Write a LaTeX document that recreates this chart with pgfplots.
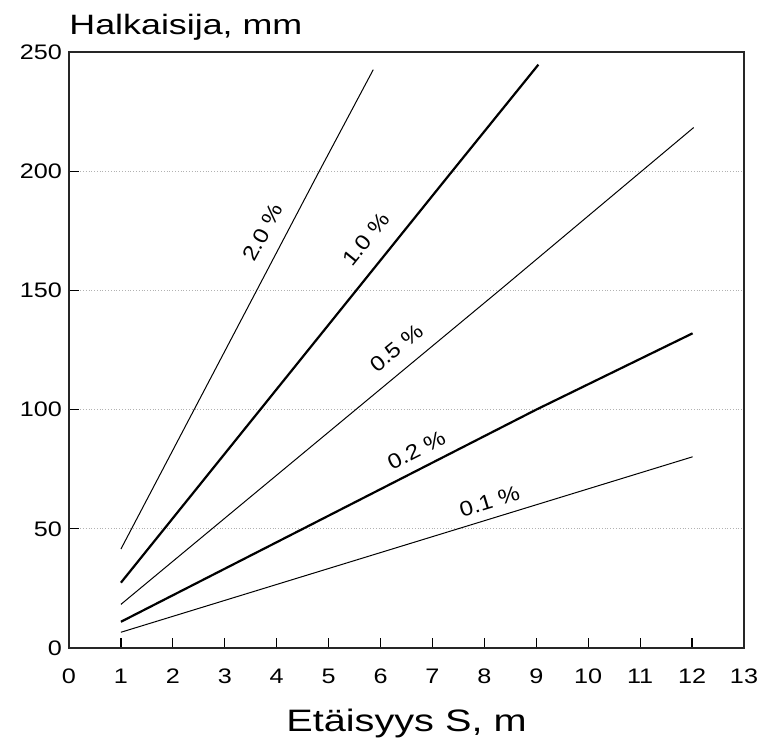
\documentclass[border=0pt]{standalone}
\usepackage{fontspec}
\setmainfont{Liberation Sans}
\newfontfamily\widefont[FakeStretch=1.28]{Liberation Sans}
\newfontfamily\tickfont[FakeStretch=1.2]{Liberation Sans}
\newfontfamily\labfont[FakeStretch=1.15]{Liberation Sans}
\usepackage{pgfplots}
\pgfplotsset{compat=1.18}
\begin{document}
\begin{tikzpicture}
\begin{axis}[
  scale only axis,
  width=337.5bp, height=298bp,
  xmin=0, xmax=13, ymin=0, ymax=250,
  xtick={0,1,...,13}, ytick={0,50,...,250},
  tick pos=left, tick align=inside,
  major tick length=5bp,
  tick style={black, line width=0.6bp},
  axis line style={line width=0.6bp, black!85},
  ymajorgrids,
  grid style={densely dotted, gray!60, line width=0.4bp},
  /pgf/number format/assume math mode=true,
  ticklabel style={font=\tickfont\fontsize{10.5bp}{12bp}\selectfont},
  xticklabel style={yshift=-7bp},
  yticklabel style={xshift=0bp},
  clip=false,
]
\addplot[black, line width=0.5bp] coordinates {(1,41.5) (4.82,200) (5.86,242.6)};
\addplot[black, line width=1.1bp] coordinates {(1,27.4) (7.38,200) (9.04,244.7)};
\addplot[black, line width=0.5bp] coordinates {(1,18.3) (8.29,150) (12.03,218.3)};
\addplot[black, line width=1.1bp] coordinates {(1,11.0) (9.0,100) (12.01,132)};
\addplot[black, line width=0.5bp] coordinates {(1,6.6) (12.01,80.2)};
\node[rotate=62, font=\labfont\fontsize{10.5bp}{12bp}\selectfont] at (axis cs:3.73,174.4) {2.0 \%};
\node[rotate=51, font=\labfont\fontsize{10.5bp}{12bp}\selectfont] at (axis cs:5.72,171.5) {1.0 \%};
\node[rotate=39, font=\labfont\fontsize{10.5bp}{12bp}\selectfont] at (axis cs:6.31,125.8) {0.5 \%};
\node[rotate=27, font=\labfont\fontsize{10.5bp}{12bp}\selectfont] at (axis cs:6.69,83) {0.2 \%};
\node[rotate=17, font=\labfont\fontsize{10.5bp}{12bp}\selectfont] at (axis cs:8.1,61.4) {0.1 \%};
\node[anchor=base west, inner sep=0pt, font=\widefont\fontsize{14bp}{16bp}\selectfont] at (rel axis cs:0,1) [yshift=8.5bp] {Halkaisija, mm};
\node[anchor=base, inner sep=0pt, font=\widefont\fontsize{15.5bp}{18bp}\selectfont] at (rel axis cs:0.5,0) [yshift=-41.5bp] {Etäisyys S, m};
\coordinate (sw) at (rel axis cs:0,0);
\coordinate (ne) at (rel axis cs:1,1);
\end{axis}
\pgfresetboundingbox
\path (sw) ++(-34.5bp,-45bp);
\path (ne) ++(7bp,26bp);
\end{tikzpicture}
\end{document}
